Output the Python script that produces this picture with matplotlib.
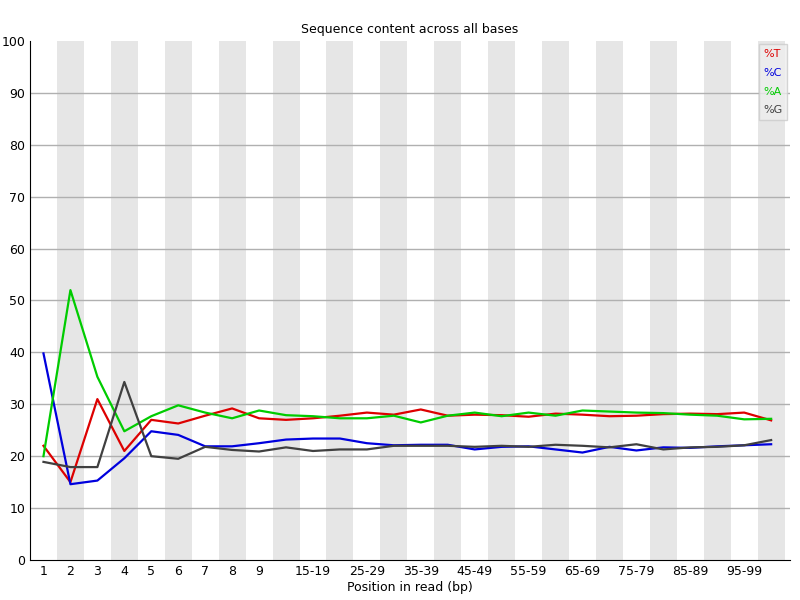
import matplotlib
matplotlib.use("Agg")
from matplotlib import pyplot as plt

labels = ["1", "2", "3", "4", "5", "6", "7", "8", "9", "10-14", "15-19", "20-24",
          "25-29", "30-34", "35-39", "40-44", "45-49", "50-54", "55-59", "60-64",
          "65-69", "70-74", "75-79", "80-84", "85-89", "90-94", "95-99", "100-101"]
shown = ["1", "2", "3", "4", "5", "6", "7", "8", "9", "15-19", "25-29", "35-39",
         "45-49", "55-59", "65-69", "75-79", "85-89", "95-99"]

pct_t = [22, 15, 31, 21, 27, 26.3, 27.8, 29.2, 27.3, 27, 27.3, 27.8, 28.4, 28, 29, 27.8,
         28, 27.9, 27.6, 28.2, 28, 27.7, 27.8, 28.1, 28.2, 28.1, 28.4, 26.9]
pct_c = [39.8, 14.6, 15.3, 19.6, 24.8, 24.1, 21.9, 21.9, 22.5, 23.2, 23.4, 23.4, 22.5, 22.1,
         22.2, 22.2, 21.3, 21.8, 21.9, 21.3, 20.7, 21.8, 21.1, 21.7, 21.6, 21.9, 22.1, 22.3]
pct_a = [20, 52, 35.3, 24.8, 27.7, 29.8, 28.4, 27.3, 28.8, 27.9, 27.7, 27.3, 27.3, 27.8,
         26.5, 27.8, 28.4, 27.7, 28.4, 27.8, 28.8, 28.6, 28.4, 28.3, 28, 27.8, 27.1, 27.2]
pct_g = [18.9, 17.9, 17.9, 34.3, 20, 19.5, 21.8, 21.2, 20.9, 21.7, 21, 21.3, 21.3, 22,
         22, 22, 21.8, 22, 21.8, 22.2, 22, 21.7, 22.3, 21.3, 21.7, 21.8, 22.1, 23.1]

fig = plt.figure(figsize=(8, 6), dpi=100)
ax = fig.add_axes([0.0375, 0.0667, 0.95, 0.865])

x = list(range(len(labels)))
for i in x:
    if i % 2 == 1:
        ax.axvspan(i - 0.5, i + 0.5, color="#e6e6e6", lw=0, zorder=0)
for v in range(10, 100, 10):
    ax.axhline(v, color="#b0b0b0", lw=1, zorder=1)

ax.plot(x, pct_t, color="#dd0000", lw=1.6, label="%T", zorder=3)
ax.plot(x, pct_c, color="#0000dd", lw=1.6, label="%C", zorder=3)
ax.plot(x, pct_a, color="#00cc00", lw=1.6, label="%A", zorder=3)
ax.plot(x, pct_g, color="#404040", lw=1.6, label="%G", zorder=3)

ax.set_xlim(-0.5, len(labels) - 0.3)
ax.set_ylim(0, 100)
ax.set_yticks(range(0, 101, 10))
ax.set_xticks(x)
ax.set_xticklabels([l if l in shown else "" for l in labels])
ax.tick_params(length=0, labelsize=9)
for s in ["top", "right"]:
    ax.spines[s].set_visible(False)
ax.set_title("Sequence content across all bases", fontsize=9)
ax.set_xlabel("Position in read (bp)", fontsize=9, labelpad=2)

leg = ax.legend(loc="upper right", fontsize=8, handlelength=0, handletextpad=0,
                frameon=True, fancybox=False, borderpad=0.4, labelspacing=0.8,
                borderaxespad=0.3)
leg.get_frame().set_facecolor("#eeeeee")
leg.get_frame().set_edgecolor("#cccccc")
for t, h in zip(leg.get_texts(), leg.legend_handles):
    t.set_color(h.get_color())
    h.set_visible(False)

fig.savefig("out.png")
